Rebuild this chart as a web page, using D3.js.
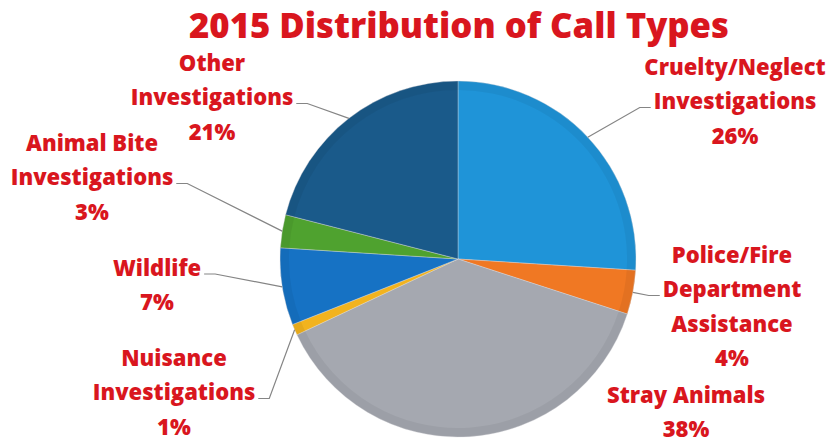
<!DOCTYPE html>
<html>
<head>
<meta charset="utf-8">
<script src="https://cdn.jsdelivr.net/npm/d3@7"></script>
<style>
  html, body { margin: 0; padding: 0; background: #ffffff; }
  svg { display: block; }
  text { font-family: "Open Sans", "Noto Sans", sans-serif; font-weight: 800; fill: #d9161e; }
</style>
</head>
<body>
<svg id="chart" width="833" height="444"></svg>
<script>
// 2015 call types, shares in percent, clockwise from 12 o'clock
const categories = [
  "Cruelty/Neglect Investigations",
  "Police/Fire Department Assistance",
  "Stray Animals",
  "Nuisance Investigations",
  "Wildlife",
  "Animal Bite Investigations",
  "Other Investigations"
];
const values = [26, 4, 38, 1, 7, 3, 21];
const labelLines = [
  ["Cruelty/Neglect", "Investigations"],
  ["Police/Fire", "Department", "Assistance"],
  ["Stray Animals"],
  ["Nuisance", "Investigations"],
  ["Wildlife"],
  ["Animal Bite", "Investigations"],
  ["Other", "Investigations"]
];
const sliceColors = ["#1f94d8", "#f07823", "#a5a8b0", "#f2b31e", "#1672c4", "#4fa22f", "#1a5a8a"];
const titleText = "2015 Distribution of Call Types";

// label placement: centre x, first-line centre y, leader line (which line, which side)
const labelLayout = [
  { x: 735, y: 67,  leadLine: 1, side: "left" },
  { x: 732, y: 255, leadLine: 1, side: "left" },
  { x: 686, y: 395, leadLine: null },
  { x: 174, y: 358, leadLine: 1, side: "right" },
  { x: 157, y: 268, leadLine: 0, side: "right" },
  { x: 92,  y: 143, leadLine: 1, side: "right" },
  { x: 212, y: 63,  leadLine: 1, side: "right" }
];
const lineGap = 34.5;

const svg = d3.select("#chart");
const cx = 458, cy = 259, radius = 178;

// title
svg.append("text")
  .attr("x", 459).attr("y", 38)
  .attr("text-anchor", "middle")
  .attr("font-size", 35)
  .attr("textLength", 540)
  .attr("lengthAdjust", "spacingAndGlyphs")
  .text(titleText);

const pie = d3.pie().sort(null).value(d => d.value);
const slices = pie(categories.map((c, i) => ({ name: c, value: values[i], i })));

const arc = d3.arc().innerRadius(0).outerRadius(radius);
const rim = d3.arc().innerRadius(radius - 9).outerRadius(radius);

const g = svg.append("g").attr("transform", `translate(${cx},${cy})`);

g.selectAll("path.slice")
  .data(slices)
  .join("path")
  .attr("class", "slice")
  .attr("d", arc)
  .attr("fill", d => sliceColors[d.data.i])
  .attr("stroke", "#d8dade")
  .attr("stroke-width", 0.4);

// slightly darker bevelled rim
g.selectAll("path.rim")
  .data(slices)
  .join("path")
  .attr("class", "rim")
  .attr("d", rim)
  .attr("fill", "#000")
  .attr("fill-opacity", 0.05);

// labels
const fontSize = 22;
slices.forEach(s => {
  const i = s.data.i;
  const lay = labelLayout[i];
  const lines = labelLines[i].concat([values[i] + "%"]);
  const texts = lines.map((ln, k) =>
    svg.append("text")
      .attr("x", lay.x)
      .attr("y", lay.y + k * lineGap)
      .attr("dy", "0.36em")
      .attr("text-anchor", "middle")
      .attr("font-size", fontSize)
      .text(ln)
  );
  if (lay.leadLine === null) return;
  const t = texts[lay.leadLine].node();
  const w = t.getComputedTextLength();
  const ly = lay.y + lay.leadLine * lineGap + 6;
  const startX = lay.side === "left" ? lay.x - w / 2 - 3 : lay.x + w / 2 + 3;
  const kneeX = lay.side === "left" ? startX - 11 : startX + 11;
  const mid = (s.startAngle + s.endAngle) / 2;
  const px = cx + radius * Math.sin(mid);
  const py = cy - radius * Math.cos(mid);
  svg.append("polyline")
    .attr("points", [[startX, ly], [kneeX, ly], [px, py]].map(p => p.join(",")).join(" "))
    .attr("fill", "none")
    .attr("stroke", "#858585")
    .attr("stroke-width", 1.2);
});
</script>
</body>
</html>
